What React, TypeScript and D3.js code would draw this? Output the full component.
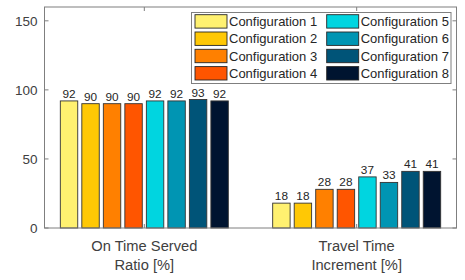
import * as d3 from "d3";

const groups = [["On Time Served", "Ratio [%]"], ["Travel Time", "Increment [%]"]];
const configs = [
  "Configuration 1", "Configuration 2", "Configuration 3", "Configuration 4",
  "Configuration 5", "Configuration 6", "Configuration 7", "Configuration 8",
];
const onTime = [92, 90, 90, 90, 92, 92, 93, 92];
const travel = [18, 18, 28, 28, 37, 33, 41, 41];
const colors = [
  "#FFF170", "#FFC805", "#FF8000", "#FF5500",
  "#00D5E0", "#0095B3", "#005478", "#001430",
];
const yTicks = [0, 50, 100, 150];

const W = 465;
const H = 280;
const left = 44.5;
const right = 456.5;
const top = 7;
const bottom = 228;
const font = "'Liberation Sans', Arial, Helvetica, sans-serif";

export default function App() {
  const series = [onTime, travel];
  const x = d3.scaleLinear().domain([0.53, 2.47]).range([left, right]);
  const y = d3.scaleLinear().domain([0, 160]).range([bottom, top]);
  const inner = d3
    .scaleBand<number>()
    .domain(d3.range(configs.length))
    .range([-84, 84])
    .paddingInner(0.19)
    .paddingOuter(0);

  return (
    <svg
      width={W}
      height={H}
      style={{ position: "absolute", left: 0, top: 0, background: "#fff" }}
      fontFamily={font}
    >
      {/* bars + value labels */}
      {series.map((vals, gi) => (
        <g key={gi} transform={`translate(${x(gi + 1)},0)`}>
          {vals.map((v, i) => (
            <g key={i}>
              <rect
                x={inner(i)!}
                y={y(v)}
                width={inner.bandwidth()}
                height={y(0) - y(v)}
                fill={colors[i]}
                stroke="#333"
                strokeWidth={0.9}
              />
              <text
                x={inner(i)! + inner.bandwidth() / 2}
                y={y(v) - 3}
                textAnchor="middle"
                fontSize={11.8}
                fill="#262626"
              >
                {v}
              </text>
            </g>
          ))}
        </g>
      ))}

      {/* axes box */}
      <rect x={left} y={top} width={right - left} height={bottom - top} fill="none" stroke="#7f7f7f" strokeWidth={1} />
      {yTicks.map((t) => (
        <g key={t}>
          <line x1={left} x2={left + 4} y1={y(t)} y2={y(t)} stroke="#7f7f7f" />
          <line x1={right} x2={right - 4} y1={y(t)} y2={y(t)} stroke="#7f7f7f" />
          <text x={left - 7} y={y(t)} dy="0.35em" textAnchor="end" fontSize={13.5} fill="#404040">
            {t}
          </text>
        </g>
      ))}
      {groups.map((lines, gi) => (
        <g key={gi}>
          <line x1={x(gi + 1)} x2={x(gi + 1)} y1={bottom} y2={bottom - 4} stroke="#7f7f7f" />
          <line x1={x(gi + 1)} x2={x(gi + 1)} y1={top} y2={top + 4} stroke="#7f7f7f" />
          {lines.map((s, li) => (
            <text key={li} x={x(gi + 1)} y={250.5 + li * 19.5} textAnchor="middle" fontSize={14.7} fill="#404040">
              {s}
            </text>
          ))}
        </g>
      ))}

      {/* legend */}
      <g>
        <rect x={191.5} y={12.5} width={259.5} height={71} fill="#fff" stroke="#7f7f7f" />
        {configs.map((c, i) => {
          const col = Math.floor(i / 4);
          const row = i % 4;
          const sx = col === 0 ? 195 : 326.7;
          const sy = 14.7 + row * 17.3;
          return (
            <g key={c}>
              <rect x={sx} y={sy} width={32} height={13.4} fill={colors[i]} stroke="#262626" strokeWidth={0.9} />
              <text x={sx + 34} y={sy + 6.7} dy="0.36em" fontSize={13} fill="#262626">
                {c}
              </text>
            </g>
          );
        })}
      </g>
    </svg>
  );
}
